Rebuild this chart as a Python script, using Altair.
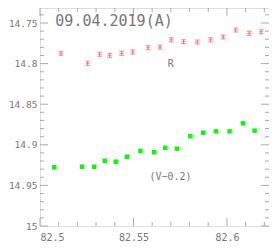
import altair as alt
import pandas as pd

# V-0.2 (green) series
v_time = [82.5076, 82.5225, 82.5289, 82.5346, 82.5405, 82.5465, 82.5537, 82.5610,
          82.5670, 82.5733, 82.5804, 82.5873, 82.5941, 82.6014, 82.6086, 82.6148]
v_mag = [14.9277, 14.9270, 14.9270, 14.9196, 14.9208, 14.9147, 14.9076, 14.9092,
         14.9036, 14.9048, 14.8895, 14.8851, 14.8834, 14.8834, 14.8735, 14.8826]

# R (red) series
r_time = [82.5112, 82.5255, 82.5319, 82.5373, 82.5437, 82.5496, 82.5578, 82.5642,
          82.5702, 82.5768, 82.5841, 82.5913, 82.5980, 82.6047, 82.6119, 82.6183]
r_mag = [14.7873, 14.7996, 14.7885, 14.7898, 14.7873, 14.7857, 14.7804, 14.7796,
         14.7706, 14.7730, 14.7734, 14.7706, 14.7672, 14.7586, 14.7627, 14.7607]
r_err = [0.0025] * 16

x_major = [82.5, 82.55, 82.6]
x_minor = [82.51, 82.52, 82.53, 82.54, 82.56, 82.57, 82.58, 82.59, 82.61, 82.62]
y_major = [14.75, 14.8, 14.85, 14.9, 14.95, 15.0]
y_minor = [14.74, 14.76, 14.77, 14.78, 14.79, 14.81, 14.82, 14.83, 14.84, 14.86,
           14.87, 14.88, 14.89, 14.91, 14.92, 14.93, 14.94, 14.96, 14.97, 14.98, 14.99]

labels_text = ["09.04.2019(A)", "R", "(V\u22120.2)"]
labels_x = [82.5396, 82.5700, 82.5698]
labels_y = [14.7475, 14.7999, 14.9397]
labels_size = [15, 10, 10]

W, H = 229, 218
x_dom = [82.5, 82.6225]
y_dom = [14.7315, 15.0]
FONT = "DejaVu Sans Mono"
GRAY = "#777777"
TICK = "#aaaaaa"

xs = alt.Scale(domain=x_dom, nice=False, zero=False)
ys = alt.Scale(domain=y_dom, reverse=True, nice=False, zero=False)

v_df = pd.DataFrame({"t": v_time, "m": v_mag})
r_df = pd.DataFrame({"t": r_time, "m": r_mag, "e": r_err})
r_df["lo"] = r_df["m"] - r_df["e"]
r_df["hi"] = r_df["m"] + r_df["e"]

xaxis = alt.Axis(values=x_major, labelExpr="format(datum.value, '.2~f')", title=None,
                 grid=False, ticks=False, domain=False, labelFont=FONT, labelFontSize=10,
                 labelColor=GRAY, labelPadding=6)
yaxis = alt.Axis(values=y_major, labelExpr="format(datum.value, '.2~f')", title=None,
                 grid=False, ticks=False, domain=False, labelFont=FONT, labelFontSize=9.5,
                 labelColor=GRAY, labelPadding=3)

base_pts = alt.Chart(v_df).mark_square(size=20, color="#00ff00", opacity=1).encode(
    x=alt.X("t:Q", scale=xs, axis=xaxis),
    y=alt.Y("m:Q", scale=ys, axis=yaxis),
)

red = "#ff6060"
r_bar = alt.Chart(r_df).mark_rule(color=red, strokeWidth=1).encode(
    x=alt.X("t:Q", scale=xs), y=alt.Y("lo:Q", scale=ys), y2="hi:Q")
r_lo = alt.Chart(r_df).mark_tick(color=red, orient="horizontal", size=5, thickness=1).encode(
    x=alt.X("t:Q", scale=xs), y=alt.Y("lo:Q", scale=ys))
r_hi = alt.Chart(r_df).mark_tick(color=red, orient="horizontal", size=5, thickness=1).encode(
    x=alt.X("t:Q", scale=xs), y=alt.Y("hi:Q", scale=ys))
r_mid = alt.Chart(r_df).mark_tick(color=red, orient="horizontal", size=4, thickness=1).encode(
    x=alt.X("t:Q", scale=xs), y=alt.Y("m:Q", scale=ys))

def xticks(vals, length):
    d = pd.DataFrame({"v": vals})
    bot = alt.Chart(d).mark_rule(color=TICK, strokeWidth=1).encode(
        x=alt.X("v:Q", scale=xs), y=alt.value(H), y2=alt.value(H - length))
    top = alt.Chart(d).mark_rule(color=TICK, strokeWidth=1).encode(
        x=alt.X("v:Q", scale=xs), y=alt.value(0), y2=alt.value(length))
    return [bot, top]

def yticks(vals, length):
    d = pd.DataFrame({"v": vals})
    left = alt.Chart(d).mark_rule(color=TICK, strokeWidth=1).encode(
        y=alt.Y("v:Q", scale=ys), x=alt.value(0), x2=alt.value(length))
    right = alt.Chart(d).mark_rule(color=TICK, strokeWidth=1).encode(
        y=alt.Y("v:Q", scale=ys), x=alt.value(W - length), x2=alt.value(W))
    return [left, right]

ticks = (xticks(x_major, 8) + xticks(x_minor, 4) + yticks(y_major, 8) + yticks(y_minor, 4))

lab_df = pd.DataFrame({"txt": labels_text, "t": labels_x, "m": labels_y, "s": labels_size})
texts = alt.Chart(lab_df).mark_text(font=FONT, color=GRAY, align="center", baseline="middle").encode(
    x=alt.X("t:Q", scale=xs), y=alt.Y("m:Q", scale=ys), text="txt:N",
    size=alt.Size("s:Q", scale=None, legend=None))

chart = alt.layer(base_pts, *ticks, r_bar, r_lo, r_hi, r_mid, texts).properties(
    width=W, height=H,
    autosize=alt.AutoSizeParams(type="none"),
    padding={"left": 32, "top": 0, "right": 0, "bottom": 15},
).configure_view(stroke="#999999", strokeWidth=1).configure(background="white")

chart.save("out.html", embed_options={"renderer": "svg", "actions": False})
